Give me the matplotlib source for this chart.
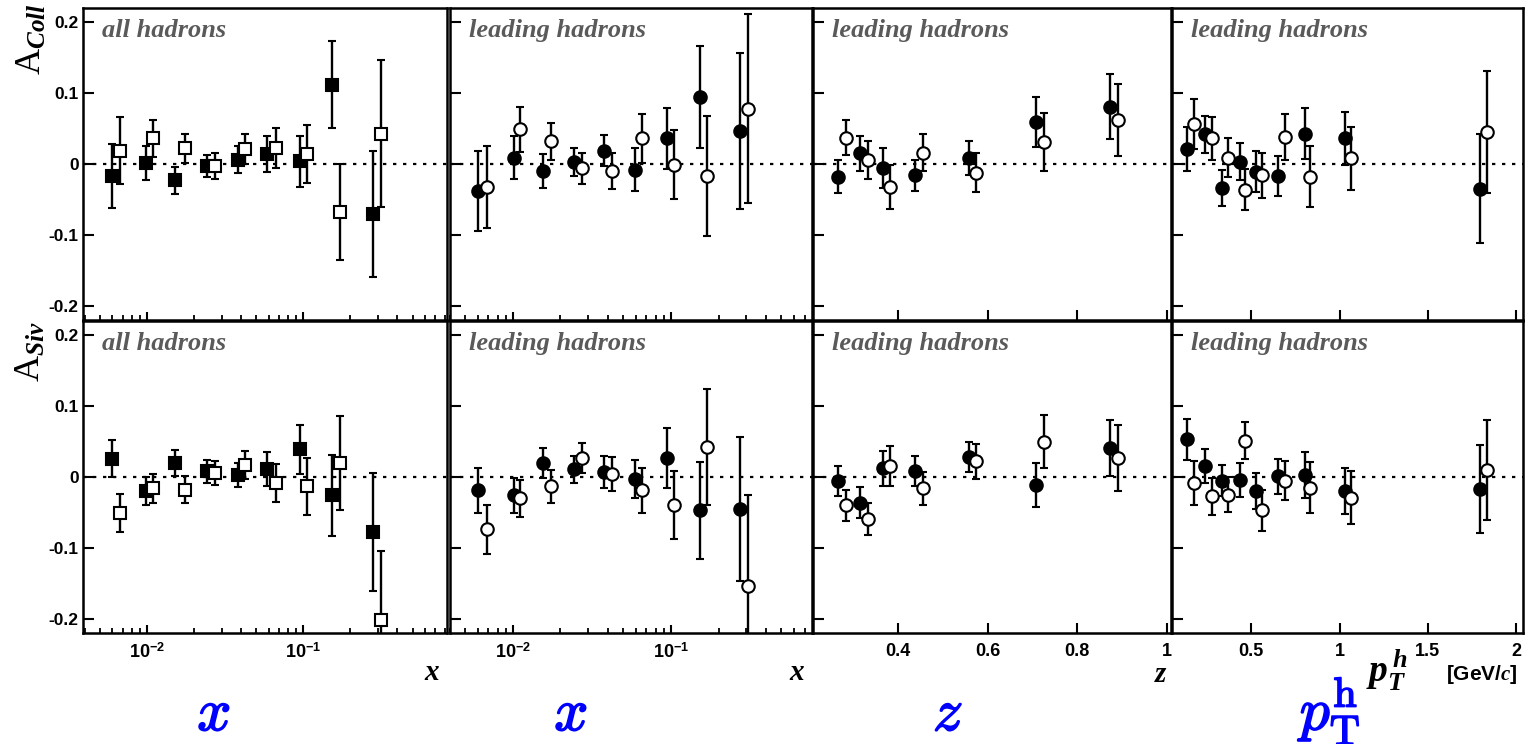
import numpy as np
import matplotlib
matplotlib.use('Agg')
import matplotlib.pyplot as plt
import matplotlib.ticker as mticker
import matplotlib.patheffects as pe

# ---- data ----
# column 1: all hadrons vs x (squares)
x_all_f = [0.0060, 0.0098, 0.0152, 0.0242, 0.038, 0.059, 0.095, 0.153, 0.280]
x_all_o = [0.0067, 0.0110, 0.0176, 0.0273, 0.0425, 0.0665, 0.106, 0.171, 0.313]
coll_all_f = [-0.017, 0.001, -0.023, -0.003, 0.006, 0.014, 0.004, 0.112, -0.070]
coll_all_f_err = [0.045, 0.024, 0.019, 0.016, 0.019, 0.025, 0.036, 0.061, 0.089]
coll_all_o = [0.019, 0.036, 0.022, -0.003, 0.021, 0.023, 0.014, -0.068, 0.043]
coll_all_o_err = [0.047, 0.026, 0.021, 0.018, 0.021, 0.028, 0.041, 0.068, 0.103]
siv_all_f = [0.026, -0.020, 0.020, 0.008, 0.003, 0.011, 0.039, -0.026, -0.078]
siv_all_f_err = [0.026, 0.020, 0.018, 0.016, 0.017, 0.024, 0.035, 0.057, 0.083]
siv_all_o = [-0.051, -0.016, -0.018, 0.006, 0.017, -0.008, -0.013, 0.020, -0.202]
siv_all_o_err = [0.027, 0.020, 0.019, 0.017, 0.020, 0.027, 0.040, 0.066, 0.098]

# column 2: leading hadrons vs x
x_lead_f = [0.0060, 0.0101, 0.0155, 0.0242, 0.0375, 0.0594, 0.0944, 0.152, 0.275]
x_lead_o = [0.0069, 0.0111, 0.0175, 0.0275, 0.0424, 0.0656, 0.105, 0.169, 0.306]
coll_lx_f = [-0.038, 0.009, -0.010, 0.003, 0.019, -0.008, 0.036, 0.094, 0.046]
coll_lx_f_err = [0.056, 0.030, 0.024, 0.020, 0.022, 0.030, 0.043, 0.072, 0.110]
coll_lx_o = [-0.032, 0.049, 0.032, -0.006, -0.010, 0.036, -0.001, -0.017, 0.078]
coll_lx_o_err = [0.058, 0.032, 0.026, 0.022, 0.025, 0.035, 0.049, 0.085, 0.133]
siv_lx_f = [-0.019, -0.026, 0.020, 0.011, 0.007, -0.003, 0.027, -0.047, -0.045]
siv_lx_f_err = [0.032, 0.025, 0.021, 0.019, 0.022, 0.027, 0.042, 0.068, 0.102]
siv_lx_o = [-0.074, -0.030, -0.013, 0.027, 0.004, -0.019, -0.039, 0.042, -0.154]
siv_lx_o_err = [0.034, 0.026, 0.023, 0.021, 0.024, 0.032, 0.048, 0.082, 0.128]

# column 3: leading hadrons vs z
z_f = [0.266, 0.316, 0.366, 0.437, 0.558, 0.709, 0.874]
z_o = [0.283, 0.333, 0.383, 0.456, 0.575, 0.727, 0.891]
coll_z_f = [-0.018, 0.015, -0.006, -0.016, 0.009, 0.059, 0.081]
coll_z_f_err = [0.023, 0.025, 0.028, 0.022, 0.024, 0.035, 0.046]
coll_z_o = [0.037, 0.006, -0.033, 0.016, -0.012, 0.031, 0.062]
coll_z_o_err = [0.025, 0.027, 0.031, 0.026, 0.028, 0.041, 0.051]
siv_z_f = [-0.006, -0.036, 0.012, 0.008, 0.028, -0.011, 0.041]
siv_z_f_err = [0.021, 0.022, 0.024, 0.021, 0.021, 0.031, 0.039]
siv_z_o = [-0.040, -0.059, 0.016, -0.016, 0.022, 0.050, 0.027]
siv_z_o_err = [0.022, 0.023, 0.028, 0.023, 0.025, 0.037, 0.047]

# column 4: leading hadrons vs pT
pt_f = [0.136, 0.236, 0.336, 0.438, 0.528, 0.651, 0.802, 1.028, 1.798]
pt_o = [0.174, 0.274, 0.368, 0.462, 0.562, 0.689, 0.834, 1.066, 1.834]
coll_pt_f = [0.021, 0.042, -0.034, 0.003, -0.011, -0.017, 0.043, 0.036, -0.035]
coll_pt_f_err = [0.031, 0.026, 0.025, 0.026, 0.029, 0.028, 0.036, 0.038, 0.077]
coll_pt_o = [0.056, 0.036, 0.009, -0.036, -0.016, 0.038, -0.018, 0.008, 0.045]
coll_pt_o_err = [0.035, 0.030, 0.028, 0.029, 0.032, 0.032, 0.043, 0.044, 0.086]
siv_pt_f = [0.053, 0.015, -0.005, -0.004, -0.020, 0.001, 0.003, -0.020, -0.017]
siv_pt_f_err = [0.029, 0.024, 0.022, 0.024, 0.025, 0.025, 0.032, 0.032, 0.062]
siv_pt_o = [-0.008, -0.027, -0.025, 0.051, -0.047, -0.005, -0.015, -0.029, 0.010]
siv_pt_o_err = [0.031, 0.026, 0.025, 0.026, 0.029, 0.028, 0.036, 0.037, 0.070]

panel_titles = ['all hadrons', 'leading hadrons', 'leading hadrons', 'leading hadrons']
y_ticks = [-0.2, -0.1, 0, 0.1, 0.2]

plt.rcParams['font.family'] = 'Liberation Sans'
plt.rcParams['font.weight'] = 'bold'
plt.rcParams['axes.unicode_minus'] = False
plt.rcParams['mathtext.fontset'] = 'custom'
plt.rcParams['mathtext.rm'] = 'Liberation Sans:bold'
plt.rcParams['mathtext.bf'] = 'Liberation Sans:bold'
plt.rcParams['mathtext.it'] = 'Liberation Serif:italic:bold'
plt.rcParams['mathtext.sf'] = 'Liberation Serif:weight=regular'

W, H = 1528, 744
fig = plt.figure(figsize=(W / 100, H / 100), dpi=100)

def fpos(x, y):
    return x / W, 1 - y / H

cols = [(83, 447), (450, 812), (813, 1171), (1172, 1523)]
rows = [(8, 320), (321, 633)]

# (x filled, x open, [(filled, err, open, err) for coll, siv], log?, xlim, xticks, marker)
columns = [
    (x_all_f, x_all_o, [(coll_all_f, coll_all_f_err, coll_all_o, coll_all_o_err),
                        (siv_all_f, siv_all_f_err, siv_all_o, siv_all_o_err)],
     True, (0.0039, 0.83), None, 's'),
    (x_lead_f, x_lead_o, [(coll_lx_f, coll_lx_f_err, coll_lx_o, coll_lx_o_err),
                          (siv_lx_f, siv_lx_f_err, siv_lx_o, siv_lx_o_err)],
     True, (0.004, 0.78), None, 'o'),
    (z_f, z_o, [(coll_z_f, coll_z_f_err, coll_z_o, coll_z_o_err),
                (siv_z_f, siv_z_f_err, siv_z_o, siv_z_o_err)],
     False, (0.21, 1.01), [0.4, 0.6, 0.8, 1.0], 'o'),
    (pt_f, pt_o, [(coll_pt_f, coll_pt_f_err, coll_pt_o, coll_pt_o_err),
                  (siv_pt_f, siv_pt_f_err, siv_pt_o, siv_pt_o_err)],
     False, (0.05, 2.04), [0.5, 1.0, 1.5, 2.0], 'o'),
]

for c, (xf, xo, sets, islog, xlim, xt, mk) in enumerate(columns):
    for r in range(2):
        x0, x1 = cols[c]
        y0, y1 = rows[r]
        ax = fig.add_axes([x0 / W, 1 - y1 / H, (x1 - x0) / W, (y1 - y0) / H])
        yf, ef, yo, eo = sets[r]
        ax.axhline(0, color='k', lw=1.6, ls=(0, (1.5, 3)), zorder=1)
        ax.errorbar(xf, yf, yerr=ef, fmt=mk, ms=9, mfc='k', mec='k', mew=1.5,
                    ecolor='k', elinewidth=1.7, capsize=3, capthick=1.7, zorder=3)
        ax.errorbar(xo, yo, yerr=eo, fmt=mk, ms=9, mfc='white', mec='k', mew=1.5,
                    ecolor='k', elinewidth=1.7, capsize=3, capthick=1.7, zorder=4)
        if islog:
            ax.set_xscale('log')
        ax.set_xlim(*xlim)
        ax.set_ylim(-0.22, 0.22)
        ax.set_yticks(y_ticks)
        if islog:
            ax.xaxis.set_major_locator(mticker.LogLocator(base=10))
            ax.xaxis.set_minor_locator(mticker.LogLocator(base=10, subs=np.arange(2, 10)))
            ax.xaxis.set_minor_formatter(mticker.NullFormatter())
            ax.xaxis.set_major_formatter(mticker.FuncFormatter(
                lambda v, p: r'$10^{%d}$' % round(np.log10(v))))
            ax.tick_params(axis='x', which='major', length=6)
            ax.tick_params(axis='x', which='minor', length=3.5, width=1.3, direction='in')
        else:
            ax.set_xticks(xt)
            ax.xaxis.set_major_formatter(mticker.FuncFormatter(lambda v, p: '%g' % v))
            ax.tick_params(axis='x', which='major', length=7)
        ax.tick_params(axis='x', which='major', direction='in', width=1.5,
                       top=False, bottom=True, labelsize=13, pad=7,
                       labelbottom=(r == 1))
        ax.tick_params(axis='y', direction='in', length=8, width=1.5,
                       left=True, right=False, labelsize=12.5, pad=3,
                       labelleft=(c == 0))
        ax.yaxis.set_major_formatter(mticker.FuncFormatter(
            lambda v, p: '0' if abs(v) < 1e-9 else '%.1f' % v))
        for s in ax.spines.values():
            s.set_linewidth(1.8)
        ax.annotate(panel_titles[c], xy=(0, 1), xycoords='axes fraction',
                    xytext=(19, -11), textcoords='offset pixels', ha='left', va='top',
                    family='Liberation Serif', style='italic', weight='bold',
                    fontsize=19, color='#5a5a5a')

# y axis labels
fig.text(*fpos(31, 3), r'$\mathsf{A}_{Coll}$', rotation=90, ha='center', va='top', fontsize=26)
fig.text(*fpos(30, 321), r'$\mathsf{A}_{Siv}$', rotation=90, ha='center', va='top', fontsize=26)

# axis variable labels
lab_kw = dict(family='Liberation Serif', style='italic', weight='bold', fontsize=21,
              ha='center', va='center')
fig.text(*fpos(432, 672), 'x', **lab_kw)
fig.text(*fpos(797, 672), 'x', **lab_kw)
fig.text(*fpos(1161, 674), 'z', **lab_kw)
fig.text(*fpos(1387, 670), r'$p^{\,h}_{T}$', ha='center', va='center', fontsize=27)
fig.text(*fpos(1518, 675), r'[GeV/$c$]', ha='right', va='center', fontsize=15, weight='bold')

# big blue labels
blue_kw = dict(color='blue', fontsize=43, math_fontfamily='cm', ha='center', va='center',
               path_effects=[pe.withStroke(linewidth=1.2, foreground='blue')])
fig.text(*fpos(214, 715), r'$x$', **blue_kw)
fig.text(*fpos(571, 715), r'$x$', **blue_kw)
fig.text(*fpos(948, 715), r'$z$', **blue_kw)
fig.text(*fpos(1331, 711), r'$p_{\mathrm{T}}^{\mathrm{h}}$', **blue_kw)

fig.savefig('out.png', dpi=100)
